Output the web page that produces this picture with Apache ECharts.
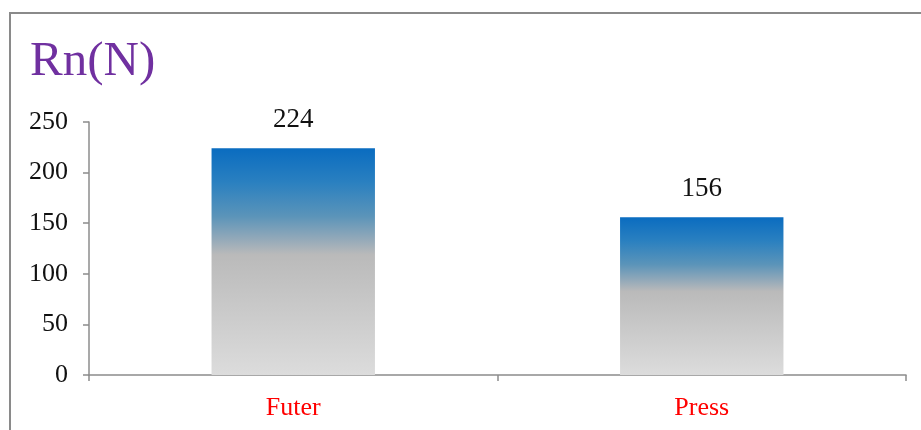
<!DOCTYPE html>
<html>
<head>
<meta charset="utf-8">
<script src="https://cdn.jsdelivr.net/npm/echarts@6/dist/echarts.min.js"></script>
<style>
html, body { margin: 0; padding: 0; background: #fff; }
#_chart { width: 921px; height: 430px; }
</style>
</head>
<body>
<div id="_chart"></div>
<script>
var categories = ['Futer', 'Press'];
var values = [224, 156];
var yTicks = [0, 50, 100, 150, 200, 250];

var serif = '"Liberation Serif", "Times New Roman", serif';

// blue on top fading to light grey at the base
var barColor = {
    type: 'linear', x: 0, y: 0, x2: 0, y2: 1,
    colorStops: [
        {offset: 0, color: '#0a6cc0'},
        {offset: 0.15, color: '#2a80c0'},
        {offset: 0.3, color: '#5b94b9'},
        {offset: 0.4, color: '#93a9b9'},
        {offset: 0.47, color: '#bababa'},
        {offset: 1, color: '#dcdcdc'}
    ]
};

var chart = echarts.init(document.getElementById('_chart'));
var option = {
    animation: false,
    backgroundColor: '#fff',
    graphic: [{
        type: 'rect',
        shape: {x: 10, y: 13, width: 940, height: 460},
        style: {fill: null, stroke: '#8a8a8a', lineWidth: 2}
    }],
    title: {
        text: 'Rn(N)',
        left: 25,
        top: 33,
        textStyle: {fontFamily: serif, fontSize: 49, fontWeight: 'normal', color: '#7030a0'}
    },
    grid: {left: 89, right: 15, top: 122, bottom: 55},
    xAxis: {
        type: 'category',
        data: categories,
        axisLine: {lineStyle: {color: '#8c8c8c', width: 1.5}},
        axisTick: {show: true, alignWithLabel: false, length: 6, lineStyle: {color: '#8c8c8c', width: 1.5}},
        axisLabel: {margin: 20, color: '#ff0000', fontFamily: serif, fontSize: 26}
    },
    yAxis: {
        type: 'value',
        min: yTicks[0],
        max: yTicks[yTicks.length - 1],
        interval: yTicks[1] - yTicks[0],
        splitLine: {show: false},
        axisLine: {show: true, lineStyle: {color: '#8c8c8c', width: 1.5}},
        axisTick: {show: true, length: 6, lineStyle: {color: '#8c8c8c', width: 1.5}},
        axisLabel: {margin: 21, color: '#111', fontFamily: serif, fontSize: 26}
    },
    series: [{
        type: 'bar',
        data: values,
        barWidth: '40%',
        itemStyle: {color: barColor},
        label: {
            show: true,
            position: 'top',
            distance: 15,
            color: '#111',
            fontFamily: serif,
            fontSize: 27
        }
    }]
};
chart.setOption(option);
</script>
</body>
</html>
